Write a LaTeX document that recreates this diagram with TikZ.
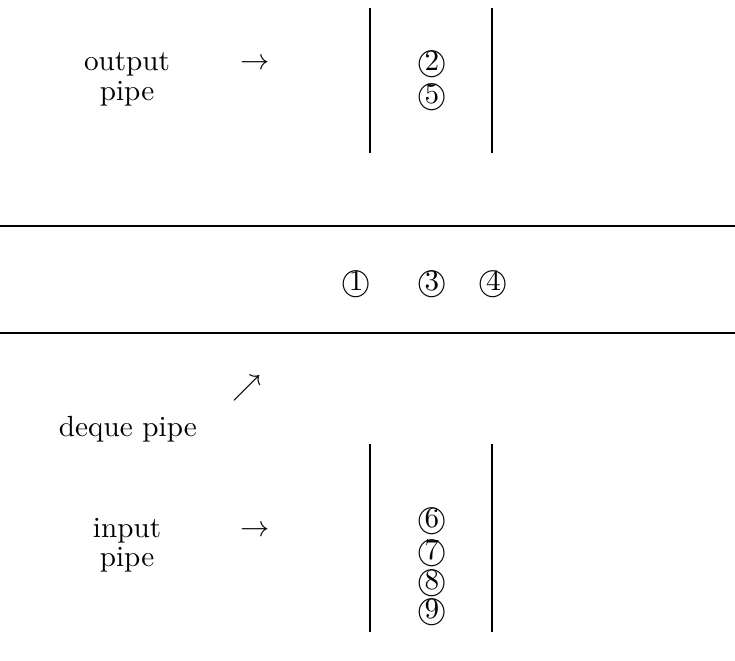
\documentclass[tikz,border=0pt]{standalone}
\usepackage{tikz}

\newcommand{\circnum}[1]{\textcircled{#1}}

\begin{document}
\begin{tikzpicture}[wall/.style={line width=0.6pt}, num/.style={inner sep=0pt}]
      \useasboundingbox (0, 0) rectangle (8.85, -7.95);

      % deque pipe (horizontal)
      \draw [wall] (0, -2.72) -- (8.85, -2.72);
      \draw [wall] (0, -4.01) -- (8.85, -4.01);
      % output pipe and input pipe (vertical)
      \draw [wall] (4.455, -0.10) -- (4.455, -1.84);
      \draw [wall] (5.92, -0.10) -- (5.92, -1.84);
      \draw [wall] (4.455, -5.35) -- (4.455, -7.61);
      \draw [wall] (5.92, -5.35) -- (5.92, -7.61);

      \node (out) at (1.53, -0.77) {output};
      \node (outp) at (1.53, -1.13) {pipe};
      \node (outarr) at (3.07, -0.77) {$\rightarrow$};
      \node (in) at (1.53, -6.39) {input};
      \node (inp) at (1.53, -6.74) {pipe};
      \node (inarr) at (3.07, -6.39) {$\rightarrow$};
      \node (deque) at (1.54, -5.17) {deque pipe};
      \node (dqarr) at (2.97, -4.67) {$\nearrow$};

      \node [num] (n2) at (5.20, -0.77) {\circnum{2}};
      \node [num] (n5) at (5.20, -1.17) {\circnum{5}};
      \node [num] (n1) at (4.29, -3.42) {\circnum{1}};
      \node [num] (n3) at (5.20, -3.42) {\circnum{3}};
      \node [num] (n4) at (5.94, -3.42) {\circnum{4}};
      \node [num] (n6) at (5.20, -6.28) {\circnum{6}};
      \node [num] (n7) at (5.20, -6.66) {\circnum{7}};
      \node [num] (n8) at (5.20, -7.02) {\circnum{8}};
      \node [num] (n9) at (5.20, -7.37) {\circnum{9}};
   \end{tikzpicture}
\end{document}
